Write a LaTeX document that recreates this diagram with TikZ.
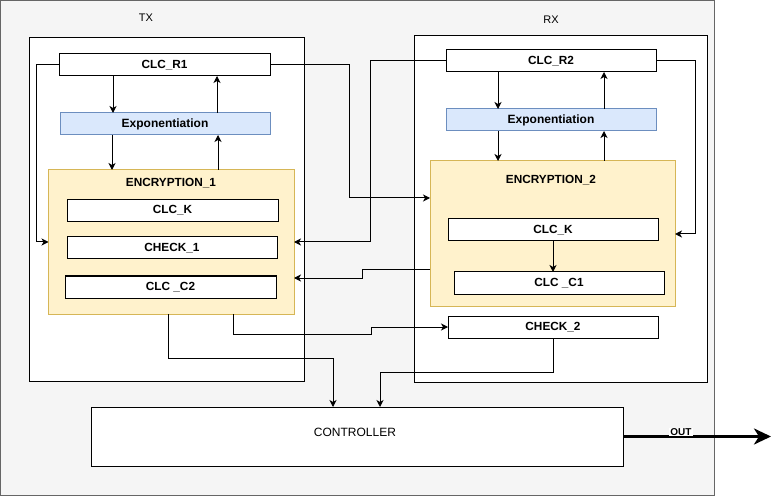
\documentclass[tikz,border=0pt]{standalone}
\usepackage{fontspec}
\setmainfont{Liberation Sans}
\usetikzlibrary{arrows.meta}
\definecolor{panelfill}{HTML}{F5F5F5}
\definecolor{panelline}{HTML}{666666}
\definecolor{expfill}{HTML}{DAE8FC}
\definecolor{expline}{HTML}{6C8EBF}
\definecolor{encfill}{HTML}{FFF2CC}
\definecolor{encline}{HTML}{D6B656}
\begin{document}
\begin{tikzpicture}[x=1pt,y=-1pt,
  every node/.style={inner sep=0pt,outer sep=0pt},
  lbl/.style={font=\fontsize{11.8}{13}\selectfont\bfseries},
  box/.style={draw=black,fill=white,line width=1pt,minimum width=210,minimum height=22,lbl},
  expbox/.style={box,draw=expline,fill=expfill,font=\fontsize{12}{14}\selectfont\bfseries},
  encbox/.style={draw=encline,fill=encfill,line width=1pt},
  unit/.style={draw=black,fill=white,line width=1pt},
  conn/.style={draw=black,line width=1pt},
  arr/.style={conn,-{Stealth[length=7pt,width=7pt,inset=2pt]}},
  title/.style={font=\fontsize{11}{13}\selectfont}
]
\useasboundingbox (0,0) rectangle (782,497);
% background panel
\draw[fill=panelfill,draw=panelline,line width=1pt] (0.5,0.5) rectangle (714.5,495.5);

% transmitter and receiver frames
\node[unit,minimum width=274.5,minimum height=343] (tx) at (166.75,209.5) {};
\node[unit,minimum width=293,minimum height=346] (rx) at (560.5,209) {};
\node[title] (txlabel) at (146,18) {TX};
\node[title] (rxlabel) at (551,20) {RX};

% transmitter blocks
\node[box,minimum width=211] (clcr1) at (164.5,65) {CLC\_R1};
\node[expbox] (exp1) at (165,124) {Exponentiation};
\node[encbox,minimum width=245.5,minimum height=144] (enc1) at (171.25,242) {};
\node[lbl] (enc1title) at (171,183) {ENCRYPTION\_1};
\node[box,minimum width=211] (clck1) at (172.5,210.5) {CLC\_K};
\node[box] (check1) at (172,248) {CHECK\_1};
\node[box,minimum width=211] (clcc2) at (170.5,287) {CLC \_C2};

% receiver blocks
\node[box] (clcr2) at (551,61) {CLC\_R2};
\node[expbox] (exp2) at (551,120) {Exponentiation};
\node[encbox,minimum width=245,minimum height=145] (enc2) at (552.5,233.5) {};
\node[lbl] (enc2title) at (551,180) {ENCRYPTION\_2};
\node[box] (clck2) at (553,230) {CLC\_K};
\node[box] (clcc1) at (559,283) {CLC \_C1};
\node[box] (check2) at (553,327) {CHECK\_2};

% controller
\node[unit,minimum width=532,minimum height=59] (ctrl) at (357,436.5) {};
\node[font=\fontsize{12}{14}\selectfont] (ctrltext) at (355,432.5) {CONTROLLER};

% transmitter links
\draw[arr] (clcr1.south -| 113,0) -- (exp1.north -| 113,0);
\draw[arr] (exp1.south -| 112,0) -- (enc1.north -| 112,0);
\draw[arr] (enc1.north -| 218,0) -- (exp1.south -| 218,0);
\draw[arr] (exp1.north -| 217,0) -- (clcr1.south -| 217,0);
\draw[arr] (clcr1.west) -- (36,65) -- (36,242) -- (enc1.west);

% cross links between the two sides
\draw[arr] (clcr1.east) -- (349,65) -- (349,198) -- (enc2.west |- 0,198);
\draw[arr] (clcr2.west) -- (370,61) -- (370,242) -- (enc1.east |- 0,242);
\draw[arr] (enc2.west |- 0,270) -- (362,270) -- (362,278) -- (enc1.east |- 0,278);
\draw[arr] (enc1.south -| 233,0) -- (233,334) -- (371,334) -- (371,327) -- (check2.west);
\draw[arr] (enc1.south -| 168,0) -- (168,358) -- (333,358) -- (ctrl.north -| 333,0);
\draw[arr] (check2.south) -- (553,372) -- (380,372) -- (ctrl.north -| 380,0);

% receiver links
\draw[arr] (clcr2.south -| 498,0) -- (exp2.north -| 498,0);
\draw[arr] (exp2.south -| 498,0) -- (enc2.north -| 498,0);
\draw[arr] (enc2.north -| 604,0) -- (exp2.south -| 604,0);
\draw[arr] (exp2.north -| 604,0) -- (clcr2.south -| 604,0);
\draw[arr] (clcr2.east) -- (695,61) -- (695,234) -- (enc2.east |- 0,234);
\draw[arr] (clck2.south) -- (clcc1.north -| clck2.south);

% output
\coordinate (outend) at (771,436.5);
\draw[line width=3pt,-{Stealth[length=17pt,width=16pt,inset=5pt]}] (ctrl.east) -- (outend);
\node[fill=white,inner xsep=1pt,inner ysep=0.5pt,font=\fontsize{10}{11}\selectfont\bfseries] (outlabel) at (681,432) {OUT};
\end{tikzpicture}
\end{document}
